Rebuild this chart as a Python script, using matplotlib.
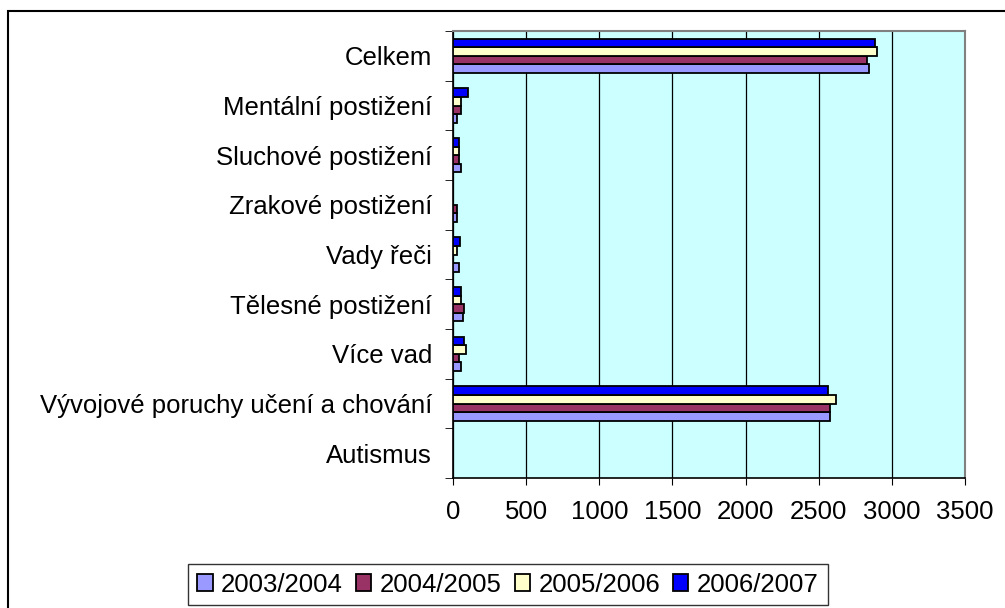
import numpy as np
import matplotlib
matplotlib.use('Agg')
import matplotlib.pyplot as plt
from matplotlib.patches import Rectangle

plt.rcParams['font.family'] = ['Liberation Sans', 'DejaVu Sans']

# data (top to bottom as in the chart)
kategorie = ['Celkem', 'Mentální postižení', 'Sluchové postižení', 'Zrakové postižení',
             'Vady řeči', 'Tělesné postižení', 'Více vad',
             'Vývojové poruchy učení a chování', 'Autismus']
roky = ['2003/2004', '2004/2005', '2005/2006', '2006/2007']
r2003 = [2843, 27, 57, 27, 43, 70, 57, 2577, 0]
r2004 = [2829, 58, 43, 25, 0, 72, 43, 2575, 0]
r2005 = [2899, 54, 41, 0, 29, 54, 88, 2616, 0]
r2006 = [2888, 100, 43, 0, 45, 58, 72, 2566, 0]
barvy = ['#9999FF', '#993366', '#FFFFCC', '#0000FF']

fs = 18.5

fig = plt.figure(figsize=(10.05, 6.08), dpi=100)
ax = fig.add_axes([453/1005, 1 - 478/608, (965 - 453)/1005, (478 - 31)/608])
ax.set_facecolor('#CCFFFF')

n = len(kategorie)
y = np.arange(n)[::-1]  # Celkem on top
h = 0.172
for i, (hodn, barva, rok) in enumerate(zip([r2003, r2004, r2005, r2006], barvy, roky)):
    ax.barh(y + (i - 1.5) * h, hodn, height=h, color=barva, edgecolor='black',
            linewidth=1.3, label=rok, zorder=3)

ax.set_xlim(0, 3500)
ax.set_ylim(-0.5, n - 0.5)
ax.set_xticks(range(0, 3501, 500))
ax.tick_params(axis='x', labelsize=fs, length=5, direction='out', pad=11)
ax.xaxis.grid(True, color='black', linewidth=0.9, zorder=0)
ax.set_axisbelow(True)

ax.set_yticks(y)
ax.set_yticklabels(kategorie)
ax.tick_params(axis='y', which='major', length=0, labelsize=fs, pad=15)
ax.set_yticks(np.arange(-0.5, n, 1), minor=True)
ax.tick_params(axis='y', which='minor', length=6, direction='out')

for s in ['left', 'bottom']:
    ax.spines[s].set_color('black')
    ax.spines[s].set_linewidth(1.2)
for s in ['top', 'right']:
    ax.spines[s].set_color('#808080')
    ax.spines[s].set_linewidth(1.5)

leg = fig.legend(loc='center', bbox_to_anchor=(508/1005, 1 - 584.5/608), ncol=4,
                 fontsize=fs, frameon=True, fancybox=False, edgecolor='black',
                 handlelength=0.6, handleheight=0.6, handletextpad=0.33,
                 columnspacing=0.5, borderpad=0.35)
leg.get_frame().set_linewidth(1.0)

# outer frame of the chart area
fig.patches.append(Rectangle((8/1005, -0.05), 1.2, 1 - 11/608 + 0.05,
                             transform=fig.transFigure, fill=False,
                             edgecolor='black', linewidth=1.5))

fig.savefig('out.png', dpi=100)
